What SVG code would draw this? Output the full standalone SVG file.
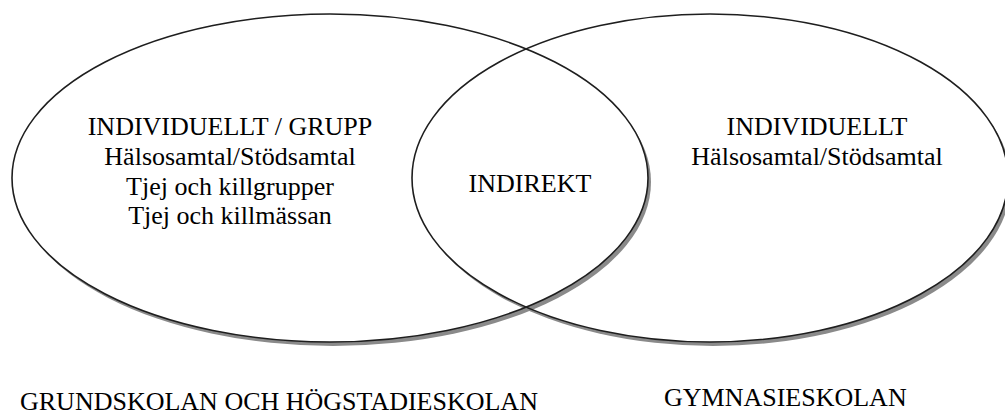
<svg xmlns="http://www.w3.org/2000/svg" width="1005" height="415" viewBox="0 0 1005 415">
  <style>
    .outline { fill: none; stroke: #1e1e1e; stroke-width: 1.6; }
    .shadow { fill: #8a8a8a; stroke: none; }
    .t { font-family: "Liberation Serif", "Times New Roman", serif; font-size: 26px; fill: #000; text-anchor: middle; }
    .lbl { font-family: "Liberation Serif", "Times New Roman", serif; font-size: 26px; fill: #000; }
  </style>
  <defs>
    <clipPath id="outsideLeft">
      <path clip-rule="evenodd" d="M-20,-20 H1030 V440 H-20 Z M12,178 a318,164 0 1,0 636,0 a318,164 0 1,0 -636,0 Z"/>
    </clipPath>
    <clipPath id="outsideRight">
      <path clip-rule="evenodd" d="M-20,-20 H1030 V440 H-20 Z M412,178 a298,164 0 1,0 596,0 a298,164 0 1,0 -596,0 Z"/>
    </clipPath>
  </defs>
  <rect x="0" y="0" width="1005" height="415" fill="#ffffff"/>

  <g id="connectors"></g>

  <g id="grundskolan-shadow">
    <ellipse class="shadow" cx="333" cy="182" rx="318" ry="164" clip-path="url(#outsideLeft)"/>
  </g>
  <g id="gymnasieskolan-shadow">
    <ellipse class="shadow" cx="713" cy="182" rx="298" ry="164" clip-path="url(#outsideRight)"/>
  </g>
  <g id="grundskolan">
    <ellipse class="outline" cx="330" cy="178" rx="318" ry="164"/>
    <text class="t" x="230" y="135">INDIVIDUELLT / GRUPP</text>
    <text class="t" x="230" y="165">Hälsosamtal/Stödsamtal</text>
    <text class="t" x="230" y="195">Tjej och killgrupper</text>
    <text class="t" x="230" y="224">Tjej och killmässan</text>
    <text class="lbl" x="20" y="410">GRUNDSKOLAN OCH HÖGSTADIESKOLAN</text>
  </g>
  <g id="gymnasieskolan">
    <ellipse class="outline" cx="710" cy="178" rx="298" ry="164"/>
    <text class="t" x="817" y="135">INDIVIDUELLT</text>
    <text class="t" x="817" y="165">Hälsosamtal/Stödsamtal</text>
    <text class="lbl" x="664" y="406">GYMNASIESKOLAN</text>
  </g>
  <g id="indirekt">
    <text class="t" x="530" y="192">INDIREKT</text>
  </g>
</svg>
